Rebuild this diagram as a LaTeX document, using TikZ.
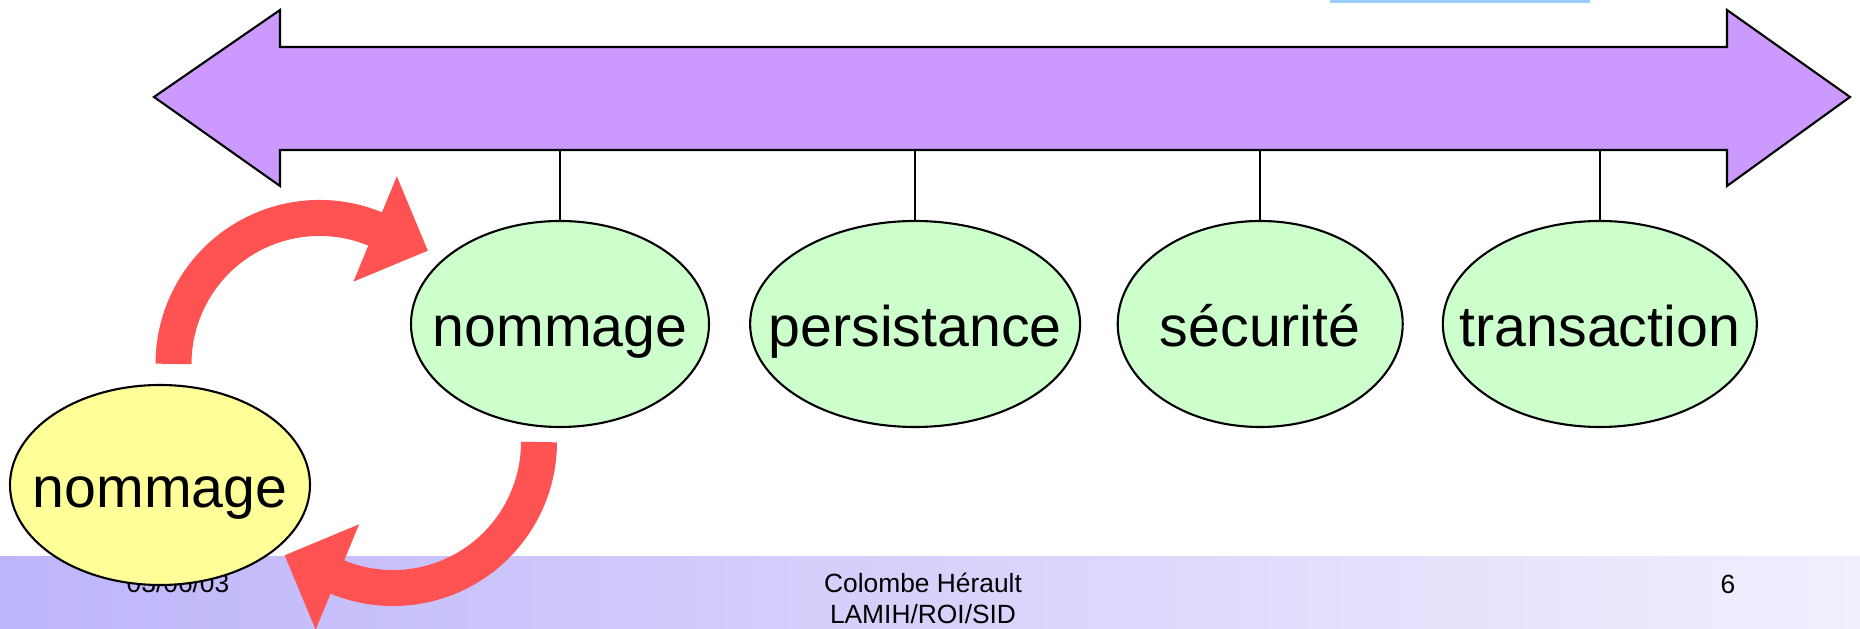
\documentclass[tikz,border=0pt]{standalone}
\usepackage{fontspec}
\setmainfont{Liberation Sans}
\usepackage{tikz}
\usetikzlibrary{positioning, arrows.meta, shapes.geometric}

\definecolor{busviolet}{HTML}{CC99FF}
\definecolor{svcgreen}{HTML}{CCFFCC}
\definecolor{clientyellow}{HTML}{FFFF99}
\definecolor{flowred}{HTML}{FF5252}
\definecolor{footleft}{RGB}{189,181,250}
\definecolor{footright}{RGB}{241,239,253}
\definecolor{topblue}{RGB}{153,204,255}

\begin{document}
\begin{tikzpicture}[x=0.1mm, y=0.1mm,
  svc/.style={ellipse, draw, line width=0.6pt, fill=svcgreen, minimum height=20.6mm,
    inner sep=0pt, text height=4.6mm, text depth=0pt, font=\fontsize{16.3}{19}\selectfont},
  foot/.style={inner sep=0pt, font=\fontsize{7.5}{9}\selectfont},
  tick/.style={line width=0.6pt},
  flow/.style={draw=flowred, line width=3.6mm,
    -{Triangle[length=5.7mm, width=11.4mm, line width=0pt]}}]
\useasboundingbox (0,0) rectangle (1860,629);

% Footer band
\shade[left color=footleft, right color=footright] (0,0) rectangle (1860,72);
\node[foot, anchor=base west] (date) at (126,36) {03/06/03};
\node[foot, anchor=base] (auth) at (923,36) {Colombe Hérault};
\node[foot, anchor=base] (lab) at (923,5) {LAMIH/ROI/SID};
\node[foot, anchor=base] (page) at (1728,35) {6};

% Strip at top
\fill[topblue] (1330,626) rectangle (1590,629);

% Bus (double arrow)
\draw[line width=0.6pt, fill=busviolet] (154,532) -- (280,619) -- (280,582) -- (1727,582)
  -- (1727,619) -- (1850,532) -- (1727,443) -- (1727,479) -- (280,479) -- (280,443) -- cycle;
\coordinate (busS) at (0,479);

% Services
\node[svc, minimum width=29.8mm] (nom) at (560,305) {\makebox[0pt]{nommage}};
\node[svc, minimum width=33mm, right=3.9mm of nom] (pers) {\makebox[0pt]{persistance}};
\node[svc, minimum width=28.5mm, right=3.55mm of pers] (secu) {\makebox[0pt]{sécurité}};
\node[svc, minimum width=31.4mm, right=3.8mm of secu] (trans) {\makebox[0pt]{transaction}};

\foreach \s in {nom, pers, secu, trans}
  \draw[tick] (\s.north) -- (\s.north |- busS);

% Client
\node[svc, fill=clientyellow, minimum width=30mm, minimum height=20mm] (cli) at (160,144)
  {\makebox[0pt]{nommage}};

% Red arrows
\draw[flow] ([shift={(13.5,20)}]cli.north) arc[start angle=180, end angle=67.6, radius=146]
  -- ++(-22.4:57);
\draw[flow] ([shift={(-21,-14)}]nom.south) arc[start angle=0, end angle=-112.4, radius=146]
  -- ++(157.6:57);
\end{tikzpicture}
\end{document}
